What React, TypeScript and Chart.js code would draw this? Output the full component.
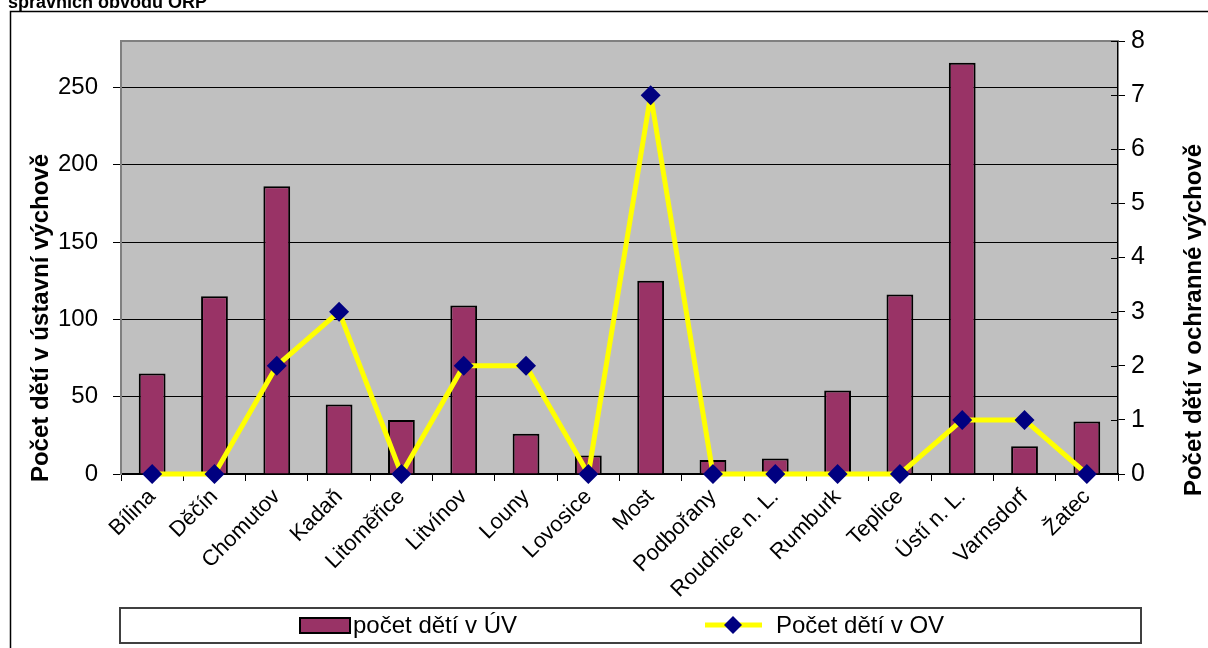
import React, { useEffect, useRef } from "react";
import { Chart, registerables } from "chart.js";

Chart.register(...registerables);

const categories = [
  "Bílina", "Děčín", "Chomutov", "Kadaň", "Litoměřice", "Litvínov", "Louny", "Lovosice",
  "Most", "Podbořany", "Roudnice n. L.", "Rumburk", "Teplice", "Ústí n. L.", "Varnsdorf", "Žatec",
];
const childrenUV = [65, 115, 186, 45, 35, 109, 26, 12, 125, 9, 10, 54, 116, 266, 18, 34];
const childrenOV = [0, 0, 2, 3, 0, 2, 2, 0, 7, 0, 0, 0, 0, 1, 1, 0];
const leftTicks = [0, 50, 100, 150, 200, 250];
const rightTicks = [0, 1, 2, 3, 4, 5, 6, 7, 8];

const seriesUVLabel = "počet dětí v ÚV";
const seriesOVLabel = "Počet dětí v OV";
const titleText = "správních obvodů ORP";
const leftTitle = "Počet dětí v ústavní výchově";
const rightTitle = "Počet dětí v ochranné výchově";

const FONT = "Arial, 'Liberation Sans', sans-serif";
const BAR = "#993366";
const LINE = "#FFFF00";
const MARK = "#000080";

const decorPlugin = {
  id: "decor",
  beforeDraw(chart: any) {
    const { ctx, chartArea } = chart;
    ctx.save();
    ctx.fillStyle = "#ffffff";
    ctx.fillRect(0, 0, chart.width, chart.height);
    ctx.fillStyle = "#C0C0C0";
    ctx.fillRect(chartArea.left, chartArea.top, chartArea.right - chartArea.left, chartArea.bottom - chartArea.top);
    ctx.restore();
  },
  afterDraw(chart: any) {
    const { ctx, chartArea } = chart;
    ctx.save();
    // plot top border
    ctx.strokeStyle = "#808080";
    ctx.lineWidth = 2;
    ctx.beginPath();
    ctx.moveTo(chartArea.left, chartArea.top);
    ctx.lineTo(chartArea.right, chartArea.top);
    ctx.stroke();

    // right axis inner ticks
    const y1 = chart.scales.y1;
    ctx.strokeStyle = "#000";
    ctx.lineWidth = 1;
    for (const v of rightTicks) {
      const py = Math.round(y1.getPixelForValue(v)) + 0.5;
      ctx.beginPath();
      ctx.moveTo(chartArea.right - 7, py);
      ctx.lineTo(chartArea.right, py);
      ctx.stroke();
    }

    // outer border
    ctx.strokeStyle = "#000";
    ctx.lineWidth = 1.5;
    ctx.beginPath();
    ctx.moveTo(10.5, chart.height + 2);
    ctx.lineTo(10.5, 11.5);
    ctx.lineTo(chart.width + 2, 11.5);
    ctx.stroke();

    // title (cut off at top)
    ctx.fillStyle = "#000";
    ctx.font = `bold 18px ${FONT}`;
    ctx.textBaseline = "alphabetic";
    ctx.textAlign = "left";
    ctx.fillText(titleText, 8, 8);

    // axis titles
    ctx.font = `bold 24px ${FONT}`;
    ctx.textAlign = "center";
    ctx.textBaseline = "middle";
    ctx.save();
    ctx.translate(41, 318);
    ctx.rotate(-Math.PI / 2);
    ctx.fillText(leftTitle, 0, 0);
    ctx.restore();
    ctx.save();
    ctx.translate(1194, 320);
    ctx.rotate(-Math.PI / 2);
    ctx.fillText(rightTitle, 0, 0);
    ctx.restore();

    // legend
    ctx.fillStyle = "#fff";
    ctx.fillRect(120, 608, 1021, 35);
    ctx.strokeStyle = "#404040";
    ctx.lineWidth = 2;
    ctx.strokeRect(120, 608, 1021, 35);

    ctx.fillStyle = BAR;
    ctx.fillRect(300, 618, 50, 15);
    ctx.strokeStyle = "#000";
    ctx.lineWidth = 2;
    ctx.strokeRect(300, 618, 50, 15);

    ctx.fillStyle = "#000";
    ctx.font = `24px ${FONT}`;
    ctx.textAlign = "left";
    ctx.textBaseline = "middle";
    ctx.fillText(seriesUVLabel, 353, 626);

    ctx.strokeStyle = LINE;
    ctx.lineWidth = 5;
    ctx.beginPath();
    ctx.moveTo(705, 625);
    ctx.lineTo(762, 625);
    ctx.stroke();
    ctx.fillStyle = MARK;
    ctx.beginPath();
    ctx.moveTo(733, 616);
    ctx.lineTo(742, 625);
    ctx.lineTo(733, 634);
    ctx.lineTo(724, 625);
    ctx.closePath();
    ctx.fill();

    ctx.fillStyle = "#000";
    ctx.fillText(seriesOVLabel, 776, 626);
    ctx.restore();
  },
};

export default function App() {
  const ref = useRef<HTMLCanvasElement>(null);

  useEffect(() => {
    if (!ref.current) return;
    const chart = new Chart(ref.current, {
      type: "bar",
      data: {
        labels: categories,
        datasets: [
          {
            type: "line",
            label: seriesOVLabel,
            data: childrenOV,
            yAxisID: "y1",
            borderColor: LINE,
            borderWidth: 5,
            borderJoinStyle: "round",
            backgroundColor: MARK,
            pointStyle: "rectRot",
            pointRadius: 10,
            pointBackgroundColor: MARK,
            pointBorderColor: MARK,
            pointBorderWidth: 0,
            tension: 0,
            order: 0,
            clip: false,
          } as any,
          {
            type: "bar",
            label: seriesUVLabel,
            data: childrenUV,
            yAxisID: "y",
            backgroundColor: BAR,
            borderColor: "#000",
            borderWidth: 2,
            categoryPercentage: 1,
            barPercentage: 0.43,
            order: 1,
          },
        ],
      },
      options: {
        responsive: false,
        devicePixelRatio: 1,
        animation: false,
        layout: { padding: { top: 41, left: 0, right: 0, bottom: 0 } },
        plugins: {
          legend: { display: false },
          title: { display: false },
          tooltip: { enabled: false },
        },
        scales: {
          x: {
            offset: true,
            grid: {
              offset: true,
              drawOnChartArea: false,
              drawTicks: true,
              tickLength: 7,
              color: "#000",
            },
            border: { color: "#000", width: 1.5 },
            ticks: {
              color: "#000",
              font: { family: FONT, size: 22 },
              minRotation: 45,
              maxRotation: 45,
              autoSkip: false,
              padding: 3,
            },
            afterFit(scale: any) {
              scale.height = 174;
            },
          },
          y: {
            position: "left",
            min: 0,
            max: 280,
            afterBuildTicks(scale: any) {
              scale.ticks = leftTicks.map((v) => ({ value: v }));
            },
            grid: { color: "#000", lineWidth: 1, tickLength: 8, drawTicks: true },
            border: { color: "#808080", width: 2 },
            ticks: {
              color: "#000",
              font: { family: FONT, size: 24 },
              padding: 15,
            },
            afterFit(scale: any) {
              scale.width = 121;
            },
          },
          y1: {
            position: "right",
            min: 0,
            max: 8,
            afterBuildTicks(scale: any) {
              scale.ticks = rightTicks.map((v) => ({ value: v }));
            },
            grid: { drawOnChartArea: false, color: "#000", tickLength: 7 },
            border: { color: "#000", width: 1.5 },
            ticks: {
              color: "#000",
              font: { family: FONT, size: 25 },
              padding: 6,
            },
            afterFit(scale: any) {
              scale.width = 90;
            },
          },
        },
      },
      plugins: [decorPlugin],
    });
    return () => chart.destroy();
  }, []);

  return (
    <div style={{ position: "fixed", left: 0, top: 0, width: 1208, height: 648, background: "#fff" }}>
      <canvas ref={ref} width={1208} height={648} style={{ display: "block" }} />
    </div>
  );
}
